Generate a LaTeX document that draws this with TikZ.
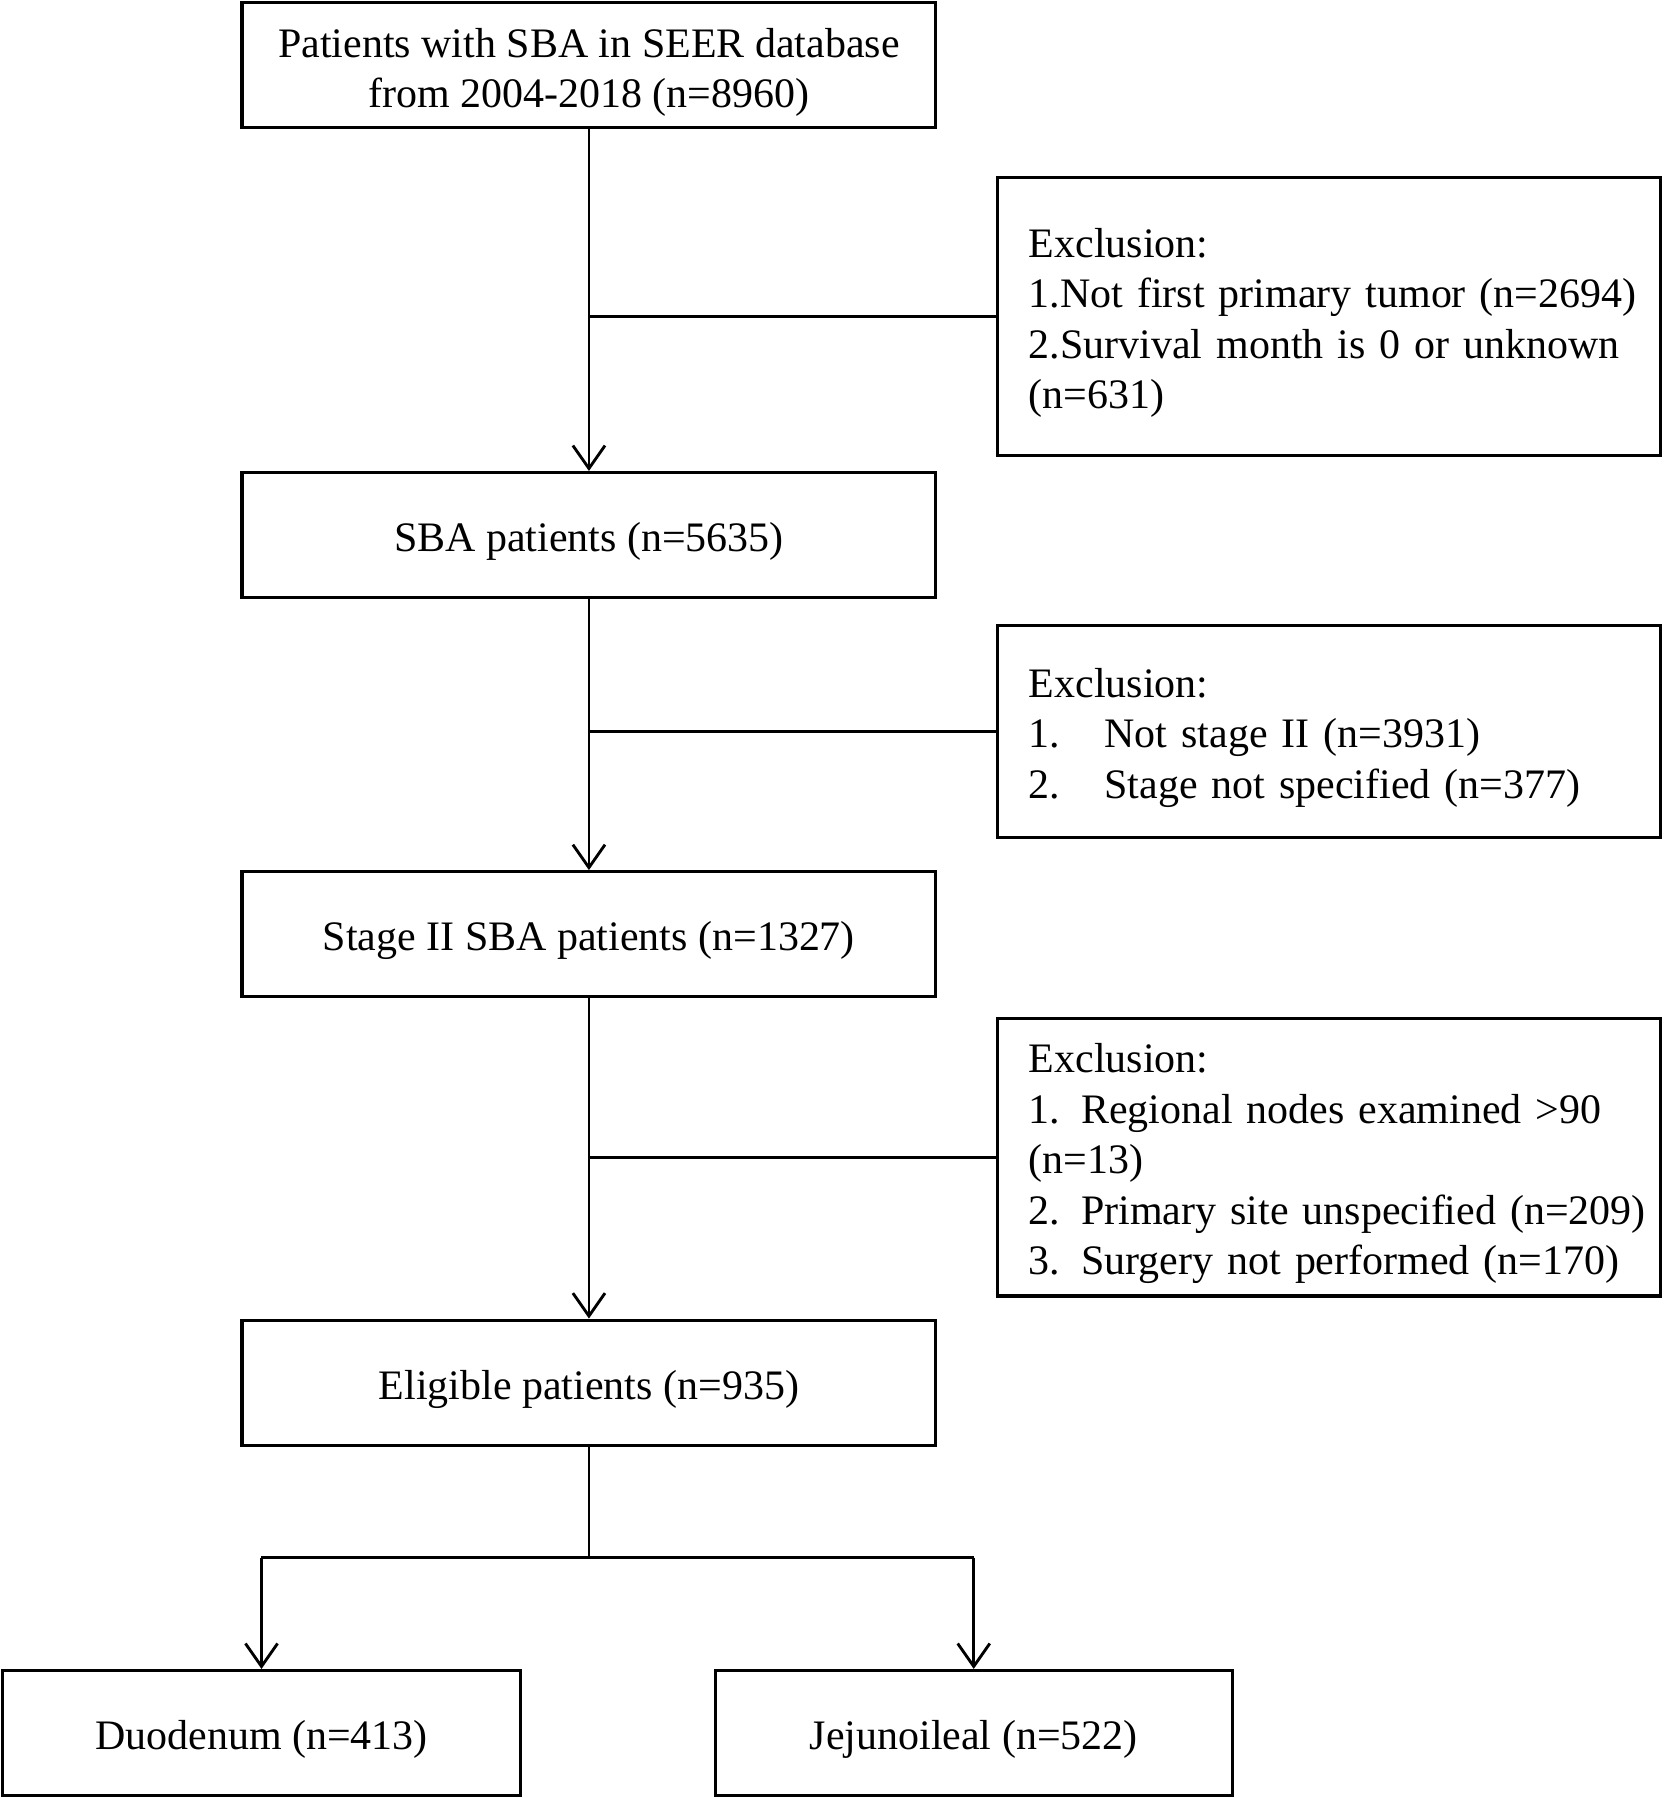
\documentclass[tikz,border=0pt]{standalone}
\usepackage{fontspec}
\setmainfont{Liberation Serif}
\usetikzlibrary{arrows.meta}
\begin{document}
\begin{tikzpicture}[x=1pt,y=-1pt,
  every node/.style={font=\fontsize{36.6}{44}\selectfont, execute at begin node={\rule{0pt}{36.5pt}}},
  mainbox/.style={draw, line width=2.7pt, minimum width=605pt, minimum height=109pt, inner sep=0pt, align=center},
  exbox/.style={draw, line width=2.7pt, text width=524pt, inner xsep=27pt, inner ysep=0pt, align=left},
  subbox/.style={draw, line width=2.7pt, minimum width=451pt, minimum height=109pt, inner sep=0pt},
  conn/.style={line width=2.5pt},
  arr/.style={line width=2.5pt, -{Straight Barb[length=20pt,width=28pt,line width=2.5pt]}}
]
\useasboundingbox (0,0) rectangle (1450,1567.7);
\node[mainbox] (b1) at (513.5,56.5) {\rule{0pt}{39pt}Patients with SBA in SEER database\\from 2004-2018 (n=8960)};
\node[exbox, minimum height=242pt] (e1) at (1159,276) {\mbox{Exclusion:}\\\mbox{1.Not first primary tumor (n=2694)}\\\mbox{2.Survival month is 0 or unknown}\\\mbox{(n=631)}};
\node[mainbox] (b2) at (513.5,466.5) {SBA patients (n=5635)};
\node[exbox, minimum height=185pt] (e2) at (1159,637.5) {\mbox{Exclusion:}\\\mbox{\makebox[66pt][l]{1.}Not stage II (n=3931)}\\\mbox{\makebox[66pt][l]{2.}Stage not specified (n=377)}};
\node[mainbox] (b3) at (513.5,814.5) {Stage II SBA patients (n=1327)};
\node[exbox, minimum height=242pt] (e3) at (1159,1009) {\mbox{Exclusion:}\\\mbox{1. Regional nodes examined >90}\\\mbox{(n=13)}\\\mbox{2. Primary site unspecified (n=209)}\\\mbox{3. Surgery not performed (n=170)}};
\node[mainbox] (b4) at (513.5,1205.5) {Eligible patients (n=935)};
\node[subbox] (b5) at (228,1511) {Duodenum (n=413)};
\node[subbox] (b6) at (849,1511) {Jejunoileal (n=522)};
\coordinate (split) at (513.5,1358);
% connectors
\draw[arr] (b1) -- (b2);
\draw[conn] (e1.west) -- (b1.south |- e1.west);
\draw[arr] (b2) -- (b3);
\draw[conn] (e2.west) -- (b2.south |- e2.west);
\draw[arr] (b3) -- (b4);
\draw[conn] (e3.west) -- (b3.south |- e3.west);
\draw[conn] (b4) -- (split);
\draw[conn] (b5.north |- split) -- (b6.north |- split);
\draw[arr] (b5.north |- split) -- (b5.north);
\draw[arr] (b6.north |- split) -- (b6.north);
\end{tikzpicture}
\end{document}
